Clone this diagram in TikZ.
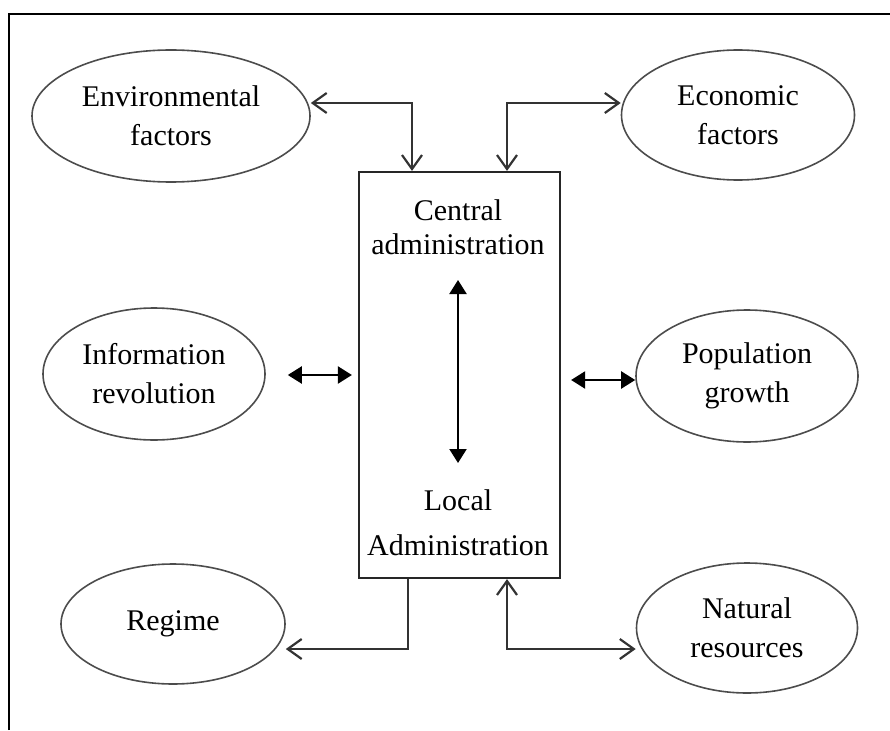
\documentclass[tikz,border=0pt]{standalone}
\usepackage{fontspec}
\setmainfont{Liberation Serif}
\usetikzlibrary{shapes.geometric,arrows.meta}
\begin{document}
\begin{tikzpicture}[x=1pt,y=-1pt,
  ell/.style={draw=black!70,line width=1.6pt,ellipse,inner sep=0pt,align=center,
     font=\fontsize{30}{39}\selectfont},
  boxnode/.style={draw=black!85,line width=2.2pt,rectangle,inner sep=0pt},
  txt/.style={align=center,font=\fontsize{30}{34}\selectfont},
  openarr/.style={draw=black!80,line width=2.2pt,arrows={Straight Barb[length=14pt,width=20pt]-Straight Barb[length=14pt,width=20pt]}},
  onearr/.style={draw=black!80,line width=2.2pt,arrows={-Straight Barb[length=14pt,width=20pt]}},
  fillarr/.style={draw=black,line width=2.2pt,arrows={Triangle[length=14pt,width=17pt]-Triangle[length=14pt,width=17pt]}}]
\useasboundingbox (0,0) rectangle (890,730);
\draw[line width=1.8pt] (9,730) -- (9,14) -- (890,14);

\node[boxnode,minimum width=201pt,minimum height=406pt] (box) at (459.5,375) {};
\node[txt] (central) at (458,227) {Central\\administration};
\node[txt,font=\fontsize{30}{45}\selectfont] (local) at (458,523) {Local\\Administration};

\node[ell,minimum width=278pt,minimum height=132pt] (env) at (171,116) {Environmental\\factors};
\node[ell,minimum width=233pt,minimum height=130pt] (eco) at (738,115) {Economic\\factors};
\node[ell,minimum width=222pt,minimum height=132pt] (inf) at (154,374) {Information\\revolution};
\node[ell,minimum width=222pt,minimum height=132pt] (pop) at (747,376) {Population\\growth};
\node[ell,minimum width=224pt,minimum height=120pt] (reg) at (173,624) {Regime};
\node[ell,minimum width=221pt,minimum height=130pt] (nat) at (747,628) {Natural\\resources};

\coordinate (tl) at (412,103);
\coordinate (tr) at (507,103);
\coordinate (bl) at (408,649);
\coordinate (br) at (507,649);

\draw[openarr] (tl -| env.east) -- (tl) -- (tl |- box.north);
\draw[openarr] (tr |- box.north) -- (tr) -- (tr -| eco.west);
\draw[onearr] (bl |- box.south) -- (bl) -- (bl -| reg.east);
\draw[openarr] (br |- box.south) -- (br) -- (br -| nat.west);

\draw[fillarr,shorten <=22pt,shorten >=6pt] (inf.east |- 0,375) -- (box.west |- 0,375);
\draw[fillarr,shorten <=10pt] (box.east |- 0,380) -- (pop.west |- 0,380);
\draw[fillarr] (central.south |- 0,280) -- (central.south |- 0,463);
\end{tikzpicture}
\end{document}
